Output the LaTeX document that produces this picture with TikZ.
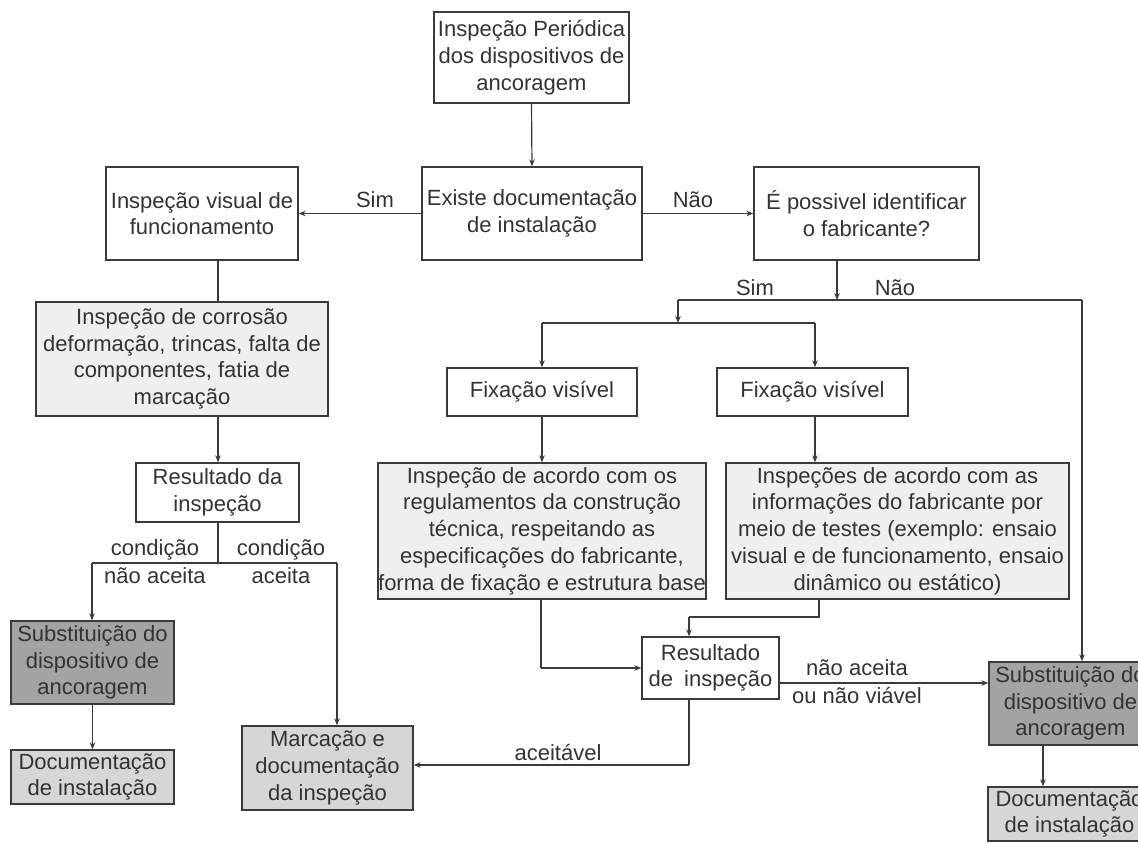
\documentclass[tikz,border=0pt]{standalone}
\usepackage{fontspec}
\setmainfont{Liberation Sans}
\usetikzlibrary{arrows.meta}
\definecolor{txt}{HTML}{333333}
\definecolor{ln}{HTML}{3A3A3A}
\definecolor{lightfill}{HTML}{EFEFEF}
\definecolor{midfill}{HTML}{D6D6D6}
\definecolor{darkfill}{HTML}{A3A3A3}
\begin{document}
\begin{tikzpicture}[x=1pt,y=-1pt,
  font=\fontsize{22}{26.7}\selectfont, text=txt,
  box/.style={draw=ln, line width=1.3pt, align=center, inner sep=0pt, fill=white},
  light/.style={box, fill=lightfill},
  mid/.style={box, fill=midfill},
  dark/.style={box, fill=darkfill},
  conn/.style={draw=ln, line width=1.2pt},
  arr/.style={conn, -{Stealth[length=7pt,width=5.5pt]}},
  lbl/.style={anchor=base, inner sep=0pt}]
\useasboundingbox (0,0) rectangle (1138,843);
\clip (0,0) rectangle (1138,843);
\fill[white] (0,0) rectangle (1138,843);

% nodes
\node[box, minimum width=195pt, minimum height=91pt] (A) at (531.5,57.5) {Inspeção Periódica\\dos dispositivos de\\ancoragem};
\node[box, minimum width=220pt, minimum height=93pt] (B) at (532,213.5) {Existe documentação\\de instalação};
\node[box, minimum width=192pt, minimum height=93pt] (C) at (202,213.5) {Inspeção visual de\\funcionamento};
\node[box, minimum width=225pt, minimum height=93pt] (D) at (866.5,213.5) {É possivel identificar\\o fabricante?};
\node[light, minimum width=292pt, minimum height=114pt] (E) at (182,359) {Inspeção de corrosão\\deformação, trincas, falta de\\componentes, fatia de\\marcação};
\node[box, minimum width=163pt, minimum height=59pt] (F) at (217.5,492.5) {Resultado da\\inspeção};
\node[dark, minimum width=163pt, minimum height=83pt] (G) at (92.5,662.5) {Substituição do\\dispositivo de\\ancoragem};
\node[mid, minimum width=163pt, minimum height=54pt] (I) at (92.5,777) {Documentação\\de instalação};
\node[mid, minimum width=171pt, minimum height=84pt] (H) at (327.5,768) {Marcação e\\documentação\\da inspeção};
\node[box, minimum width=190pt, minimum height=48pt] (J) at (542,392) {Fixação visível};
\node[box, minimum width=191pt, minimum height=48pt] (K) at (812.5,392) {Fixação visível};
\node[light, minimum width=328pt, minimum height=136pt] (L) at (542,531) {Inspeção de acordo com os\\regulamentos da construção\\técnica, respeitando as\\especificações do fabricante,\\forma de fixação e estrutura base};
\node[light, minimum width=343pt, minimum height=136pt] (M) at (897.5,531) {Inspeções de acordo com as\\informações do fabricante por\\meio de testes (exemplo: ensaio\\visual e de funcionamento, ensaio\\dinâmico ou estático)};
\node[box, minimum width=137pt, minimum height=62pt] (N) at (710.5,668) {Resultado\\de\enspace inspeção};
\node[dark, minimum width=163pt, minimum height=83pt] (S2) at (1070.5,703.5) {Substituição do\\dispositivo de\\ancoragem};
\node[mid, minimum width=163pt, minimum height=54pt] (D2) at (1069.5,814) {Documentação\\de instalação};

% junction coordinates
\coordinate (jF) at (218,563);
\coordinate (jFl) at (92,563);
\coordinate (jFr) at (337,563);
\coordinate (jD) at (837,300);
\coordinate (jDl) at (678,300);
\coordinate (jDr) at (1082,300);
\coordinate (jS) at (678,323);
\coordinate (jSl) at (542,323);
\coordinate (jSr) at (815,323);
\coordinate (jL) at (541,668);
\coordinate (jM1) at (819,617);
\coordinate (jM2) at (689,617);
\coordinate (jN) at (689,765);
\coordinate (nOut) at (779,683);
\coordinate (jS2) at (1043,0);

% connectors
\draw[arr] (A.south) -- (B.north);
\draw[arr] (B.west) -- (C.east);
\draw[arr] (B.east) -- (D.west);
\draw[conn] (C.south -| jF) -- (E.north -| jF);
\draw[arr] (E.south -| jF) -- (F.north -| jF);
\draw[conn] (F.south -| jF) -- (jF);
\draw[conn] (jFl) -- (jFr);
\draw[arr] (jFl) -- (G.north -| jFl);
\draw[arr] (jFr) -- (H.north -| jFr);
\draw[arr] (G.south) -- (I.north);

\draw[arr] (D.south -| jD) -- (jD);
\draw[conn] (jDl) -- (jDr);
\draw[arr] (jDr) -- (S2.north -| jDr);
\draw[arr] (jDl) -- (jS);
\draw[conn] (jSl) -- (jSr);
\draw[arr] (jSl) -- (J.north -| jSl);
\draw[arr] (jSr) -- (K.north -| jSr);
\draw[arr] (J.south -| jSl) -- (L.north -| jSl);
\draw[arr] (K.south -| jSr) -- (M.north -| jSr);
\draw[conn] (L.south -| jL) -- (jL);
\draw[arr] (jL) -- (N.west);
\draw[conn] (M.south -| jM1) -- (jM1) -- (jM2);
\draw[arr] (jM2) -- (N.north -| jM2);
\draw[arr] (nOut) -- (S2.west |- nOut);
\draw[conn] (N.south -| jN) -- (jN);
\draw[arr] (jN) -- (H.east |- jN);
\draw[arr] (S2.south -| jS2) -- (D2.north -| jS2);

% labels
\node[lbl] (l1) at (375,207) {Sim};
\node[lbl] (l2) at (693,207) {Não};
\node[lbl] (l3) at (755,295) {Sim};
\node[lbl] (l4) at (895,295) {Não};
\node[lbl] (l5) at (155,555) {condição};
\node[lbl] (l6) at (155,583) {não aceita};
\node[lbl] (l7) at (281,555) {condição};
\node[lbl] (l8) at (281,583) {aceita};
\node[lbl] (l9) at (857,675) {não aceita};
\node[lbl] (l10) at (857,703) {ou não viável};
\node[lbl] (l11) at (558,760) {aceitável};
\end{tikzpicture}
\end{document}
